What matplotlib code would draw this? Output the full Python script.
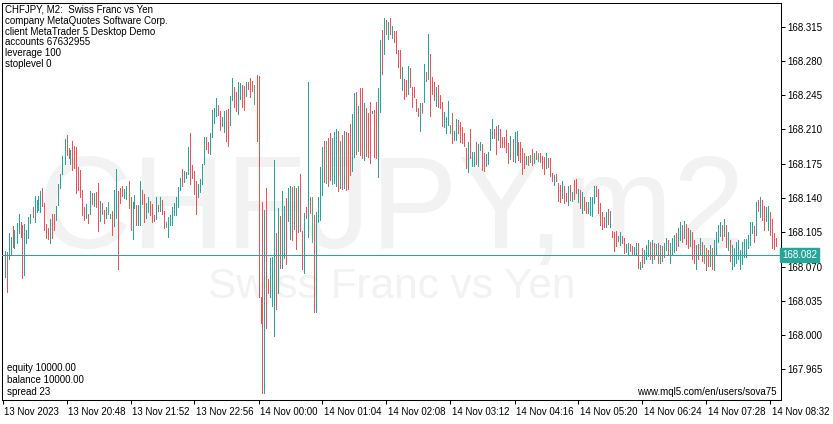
import matplotlib
matplotlib.use("Agg")
import matplotlib.pyplot as plt
import matplotlib.transforms as mtransforms
import pandas as pd

W, H = 833, 424

# CHFJPY M2 bars (high / low, direction u=up d=down n=doji)
highs = [
    168.086, 168.085, 168.104, 168.100, 168.111, 168.107, 168.114, 168.124, 168.116, 168.112,
    168.113, 168.107, 168.121, 168.124, 168.131, 168.142, 168.138, 168.142, 168.147, 168.150,
    168.135, 168.113, 168.109, 168.119, 168.124, 168.124, 168.132, 168.154, 168.165, 168.183,
    168.200, 168.204, 168.191, 168.189, 168.198, 168.193, 168.192, 168.172, 168.169, 168.148,
    168.131, 168.134, 168.124, 168.147, 168.145, 168.145, 168.146, 168.155, 168.137, 168.135,
    168.128, 168.131, 168.136, 168.124, 168.127, 168.148, 168.170, 168.147, 168.150, 168.152,
    168.149, 168.152, 168.157, 168.141, 168.136, 168.143, 168.133, 168.133, 168.157, 168.148,
    168.144, 168.135, 168.141, 168.137, 168.134, 168.123, 168.141, 168.133, 168.141, 168.138,
    168.127, 168.116, 168.121, 168.123, 168.131, 168.135, 168.141, 168.151, 168.160, 168.170,
    168.168, 168.167, 168.192, 168.206, 168.174, 168.168, 168.157, 168.154, 168.159, 168.175,
    168.202, 168.202, 168.197, 168.206, 168.230, 168.232, 168.242, 168.235, 168.229, 168.223,
    168.229, 168.230, 168.231, 168.244, 168.263, 168.253, 168.248, 168.259, 168.257, 168.255,
    168.254, 168.258, 168.258, 168.263, 168.260, 168.255, 168.266, 168.265, 168.039, 168.136,
    168.128, 168.150, 168.057, 168.079, 168.080, 168.179, 168.104, 168.130, 168.122, 168.147,
    168.132, 168.140, 168.150, 168.152, 168.151, 168.152, 168.150, 168.152, 168.165, 168.106,
    168.125, 168.131, 168.258, 168.141, 168.141, 168.123, 168.126, 168.141, 168.172, 168.192,
    168.198, 168.198, 168.201, 168.206, 168.201, 168.207, 168.210, 168.208, 168.198, 168.204,
    168.208, 168.207, 168.206, 168.216, 168.226, 168.247, 168.248, 168.234, 168.252, 168.252,
    168.237, 168.232, 168.227, 168.238, 168.229, 168.230, 168.238, 168.252, 168.301, 168.312,
    168.324, 168.322, 168.320, 168.324, 168.316, 168.311, 168.311, 168.291, 168.291, 168.274,
    168.262, 168.261, 168.275, 168.273, 168.253, 168.253, 168.241, 168.232, 168.237, 168.237,
    168.277, 168.269, 168.308, 168.287, 168.264, 168.258, 168.253, 168.255, 168.245, 168.238,
    168.228, 168.223, 168.239, 168.215, 168.227, 168.208, 168.221, 168.220, 168.218, 168.213,
    168.206, 168.191, 168.197, 168.211, 168.187, 168.187, 168.197, 168.195, 168.197, 168.195,
    168.186, 168.185, 168.187, 168.211, 168.221, 168.211, 168.214, 168.215, 168.211, 168.202,
    168.202, 168.209, 168.196, 168.203, 168.200, 168.207, 168.208, 168.197, 168.197, 168.191,
    168.186, 168.183, 168.183, 168.184, 168.190, 168.186, 168.188, 168.186, 168.186, 168.183,
    168.182, 168.186, 168.181, 168.181, 168.166, 168.164, 168.165, 168.155, 168.153, 168.157,
    168.152, 168.145, 168.152, 168.153, 168.146, 168.158, 168.159, 168.149, 168.148, 168.146,
    168.141, 168.136, 168.136, 168.141, 168.141, 168.152, 168.152, 168.149, 168.135, 168.126,
    168.121, 168.126, 168.129, 168.127, 168.106, 168.105, 168.106, 168.101, 168.105, 168.101,
    168.099, 168.093, 168.094, 168.093, 168.091, 168.090, 168.094, 168.094, 168.075, 168.089,
    168.087, 168.092, 168.097, 168.095, 168.097, 168.094, 168.093, 168.094, 168.092, 168.091,
    168.094, 168.099, 168.097, 168.094, 168.099, 168.102, 168.104, 168.109, 168.115, 168.112,
    168.117, 168.113, 168.109, 168.107, 168.105, 168.097, 168.092, 168.093, 168.099, 168.095,
    168.092, 168.089, 168.087, 168.092, 168.089, 168.097, 168.105, 168.112, 168.115, 168.112,
    168.119, 168.112, 168.105, 168.097, 168.092, 168.089, 168.095, 168.097, 168.087, 168.095,
    168.098, 168.098, 168.102, 168.115, 168.115, 168.111, 168.136, 168.138, 168.141, 168.138,
    168.132, 168.131, 168.132, 168.126, 168.119, 168.104, 168.099,
]
lows = [
    168.059, 168.044, 168.078, 168.083, 168.090, 168.089, 168.094, 168.104, 168.100, 168.058,
    168.061, 168.094, 168.099, 168.114, 168.121, 168.115, 168.126, 168.128, 168.126, 168.132,
    168.107, 168.099, 168.098, 168.094, 168.099, 168.107, 168.118, 168.133, 168.150, 168.165,
    168.175, 168.184, 168.181, 168.175, 168.169, 168.171, 168.145, 168.148, 168.141, 168.123,
    168.118, 168.120, 168.114, 168.124, 168.134, 168.132, 168.131, 168.106, 168.117, 168.124,
    168.114, 168.120, 168.124, 168.120, 168.102, 168.111, 168.120, 168.068, 168.135, 168.142,
    168.140, 168.139, 168.130, 168.107, 168.098, 168.130, 168.112, 168.112, 168.112, 168.134,
    168.115, 168.120, 168.126, 168.123, 168.116, 168.117, 168.119, 168.127, 168.127, 168.124,
    168.109, 168.110, 168.100, 168.112, 168.112, 168.123, 168.123, 168.131, 168.148, 168.152,
    168.156, 168.160, 168.165, 168.154, 168.160, 168.144, 168.124, 168.141, 168.146, 168.154,
    168.175, 168.190, 168.186, 168.185, 168.202, 168.217, 168.224, 168.225, 168.209, 168.214,
    168.207, 168.198, 168.193, 168.215, 168.240, 168.233, 168.229, 168.226, 168.241, 168.233,
    168.230, 168.244, 168.251, 168.243, 168.249, 168.236, 168.198, 168.039, 168.012, 167.941,
    167.941, 168.007, 168.043, 168.039, 168.030, 167.999, 168.027, 168.043, 168.069, 168.069,
    168.079, 168.073, 168.117, 168.098, 168.097, 168.108, 168.088, 168.105, 168.106, 168.068,
    168.063, 168.120, 168.100, 168.125, 168.095, 168.024, 168.024, 168.116, 168.118, 168.143,
    168.156, 168.155, 168.152, 168.158, 168.154, 168.155, 168.152, 168.147, 168.150, 168.149,
    168.150, 168.148, 168.149, 168.164, 168.168, 168.182, 168.185, 168.188, 168.184, 168.181,
    168.179, 168.183, 168.182, 168.176, 168.227, 168.182, 168.181, 168.161, 168.228, 168.267,
    168.287, 168.308, 168.302, 168.308, 168.303, 168.299, 168.288, 168.274, 168.263, 168.250,
    168.241, 168.244, 168.246, 168.253, 168.233, 168.243, 168.229, 168.224, 168.208, 168.227,
    168.238, 168.260, 168.262, 168.224, 168.246, 168.240, 168.234, 168.233, 168.232, 168.214,
    168.213, 168.206, 168.215, 168.206, 168.196, 168.199, 168.199, 168.206, 168.197, 168.196,
    168.193, 168.171, 168.167, 168.181, 168.173, 168.173, 168.175, 168.173, 168.189, 168.169,
    168.168, 168.173, 168.175, 168.189, 168.201, 168.201, 168.185, 168.199, 168.192, 168.192,
    168.192, 168.187, 168.176, 168.180, 168.178, 168.177, 168.184, 168.179, 168.177, 168.165,
    168.171, 168.175, 168.174, 168.177, 168.174, 168.176, 168.180, 168.178, 168.177, 168.171,
    168.165, 168.171, 168.172, 168.163, 168.157, 168.153, 168.157, 168.137, 168.136, 168.140,
    168.135, 168.137, 168.133, 168.138, 168.137, 168.139, 168.145, 168.136, 168.130, 168.125,
    168.128, 168.125, 168.125, 168.123, 168.122, 168.135, 168.142, 168.125, 168.112, 168.108,
    168.110, 168.110, 168.113, 168.110, 168.100, 168.086, 168.091, 168.096, 168.092, 168.094,
    168.084, 168.085, 168.083, 168.086, 168.083, 168.083, 168.083, 168.069, 168.067, 168.070,
    168.074, 168.078, 168.081, 168.078, 168.074, 168.078, 168.082, 168.074, 168.074, 168.076,
    168.080, 168.087, 168.083, 168.074, 168.082, 168.085, 168.087, 168.091, 168.097, 168.095,
    168.099, 168.093, 168.089, 168.091, 168.078, 168.074, 168.068, 168.078, 168.082, 168.076,
    168.074, 168.066, 168.071, 168.071, 168.068, 168.066, 168.082, 168.095, 168.101, 168.097,
    168.101, 168.090, 168.087, 168.076, 168.068, 168.071, 168.074, 168.078, 168.068, 168.073,
    168.080, 168.080, 168.089, 168.092, 168.104, 168.095, 168.102, 168.127, 168.121, 168.118,
    168.107, 168.117, 168.107, 168.102, 168.089, 168.088, 168.091,
]
# one letter per bar, ten bars per chunk
direction = "".join([
    "uduuduuudd", "uuuuduuuud", "dddudduuuu", "uddudddddd", "dudududdud",
    "dunuduuddd", "uudduuduud", "duudddudud", "dnuuuuuuud", "uuudddduuu",
    "udduuuuddu", "udduudduud", "dudddndddd", "udduuududu", "uduudududd",
    "ududnduuuu", "dndduuudud", "uddduududd", "udddudduud", "udududdddu",
    "ddudddddud", "ududdduddd", "uuunduuddd", "dduduuduud", "duuuuddudd",
    "ddduduuddd", "dudududndd", "dudddudddu", "ddududdudu", "dduuuudddd",
    "dududdduud", "duudduudud", "uuudududud", "uuduuuduud", "udduddudud",
    "ndduduuuud", "ududuuuuuu", "uuuuududud", "duudddd",
])

up_col, down_col, doji_col = "#26a69a", "#ef5350", "#4caf7a"
bar_colors = {"u": up_col, "d": down_col, "n": doji_col}

start_time = pd.Timestamp("2023-11-13 19:46")
tick_times = pd.to_datetime([
    "2023-11-13 19:44", "2023-11-13 20:48", "2023-11-13 21:52", "2023-11-13 22:56",
    "2023-11-14 00:00", "2023-11-14 01:04", "2023-11-14 02:08", "2023-11-14 03:12",
    "2023-11-14 04:16", "2023-11-14 05:20", "2023-11-14 06:24", "2023-11-14 07:28",
    "2023-11-14 08:32",
])
tick_labels = [
    "13 Nov 2023", "13 Nov 20:48", "13 Nov 21:52", "13 Nov 22:56", "14 Nov 00:00",
    "14 Nov 01:04", "14 Nov 02:08", "14 Nov 03:12", "14 Nov 04:16", "14 Nov 05:20",
    "14 Nov 06:24", "14 Nov 07:28", "14 Nov 08:32",
]
price_ticks = [167.965, 168.000, 168.035, 168.070, 168.105, 168.140,
               168.175, 168.210, 168.245, 168.280, 168.315]
last_price = 168.082

info_lines = ["CHFJPY, M2:  Swiss Franc vs Yen", "company MetaQuotes Software Corp.",
              "client MetaTrader 5 Desktop Demo", "accounts 67632955", "leverage 100",
              "stoplevel 0"]
account_lines = ["equity 10000.00", "balance 10000.00", "spread 23"]

plt.rcParams["font.family"] = ["Liberation Sans", "DejaVu Sans"]
fig = plt.figure(figsize=(W / 100, H / 100), dpi=100)
ax = fig.add_axes([2 / W, 24 / H, 779 / W, 397.5 / H])

n = len(highs)
xs = list(range(n))
cols = [bar_colors[d] for d in direction[:n]]
ax.vlines(xs, lows, highs, colors=cols, linewidth=0.7, antialiased=False, zorder=3)

ax.axhline(last_price, color=up_col, linewidth=0.7, antialiased=False, zorder=4)

ax.set_xlim(-1.25, 388.25)
ax.set_ylim(167.9337, 168.3397)

# watermark
ax.text(0.5, 0.382, "CHFJPY,m2", transform=ax.transAxes, ha="center", va="baseline",
        fontsize=94, color="#f2f2f2", zorder=0)
ax.text(0.5, 0.257, "Swiss Franc vs Yen", transform=ax.transAxes, ha="center", va="baseline",
        fontsize=30.5, color="#f2f2f2", zorder=0)

# axes
for s in ax.spines.values():
    s.set_linewidth(0.75)
    s.set_color("black")
ax.yaxis.tick_right()
ax.set_yticks(price_ticks)
ax.set_yticklabels([f"{p:.3f}" for p in price_ticks])
ax.tick_params(axis="y", length=3, width=0.75, pad=1.5, labelsize=7)

pos = [(t - start_time) / pd.Timedelta(minutes=2) for t in tick_times]
ax.set_xticks(pos)
ax.set_xticklabels(tick_labels)
ax.tick_params(axis="x", length=3, width=0.75, pad=2, labelsize=7)
shift = mtransforms.ScaledTranslation(2 / 100, 0, fig.dpi_scale_trans)
for lab in ax.get_xticklabels():
    lab.set_horizontalalignment("left")
    lab.set_transform(lab.get_transform() + shift)

# last price tag
ax.text(1.0015, last_price, f"{last_price:.3f}", transform=ax.get_yaxis_transform(),
        ha="left", va="center", fontsize=7, color="white", zorder=6,
        bbox=dict(boxstyle="square,pad=0.18", facecolor=up_col, edgecolor=up_col))

for i, line in enumerate(info_lines):
    fig.text(5 / W, 1 - (10 + 10.8 * i) / H, line, ha="left", va="center", fontsize=7)
for i, line in enumerate(account_lines):
    fig.text(7 / W, 1 - (368 + 12 * i) / H, line, ha="left", va="center", fontsize=7)
fig.text(777 / W, 1 - 392 / H, "www.mql5.com/en/users/sova75", ha="right", va="center", fontsize=7)

fig.savefig("out.png", dpi=100)
